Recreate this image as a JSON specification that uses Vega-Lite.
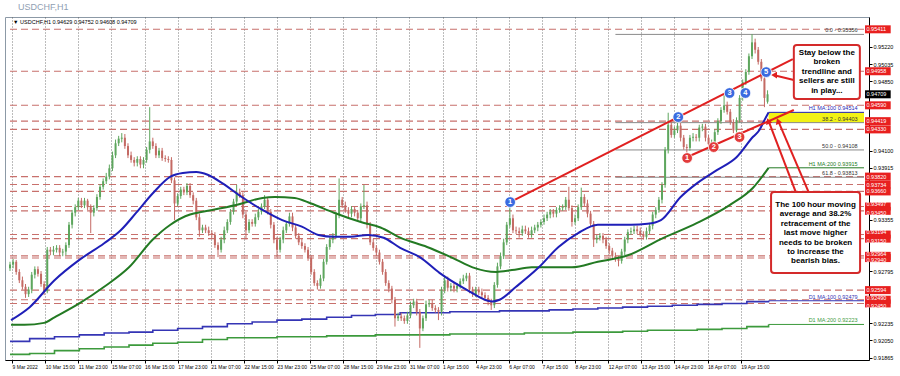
{
"$schema": "https://vega.github.io/schema/vega-lite/v6.json",
"width": 864, "height": 343,
"autosize": {"type": "none"},
"padding": {"left": 5, "top": 17, "right": 31, "bottom": 16},
"background": "white",
"view": {"stroke": "#8c99a6"},
"title": {"text": "USDCHF,H1", "anchor": "start", "fontSize": 9, "font": "Liberation Sans", "fontWeight": "normal", "color": "#8fa0b3", "offset": 5, "dx": 13},
"config": {"font": "Liberation Sans",
 "axis": {"titleOpacity": 0, "titleFontSize": 1, "labelOverlap": false, "labelFlush": false, "labelColor": "#000000", "labelPadding": 1, "tickSize": 3, "tickColor": "#000000", "domainColor": "#000000"},
 "axisX": {"grid": true, "gridColor": "#555555", "gridDash": [1, 2], "gridWidth": 0.8, "labelAlign": "left", "labelFontSize": 5},
 "axisY": {"grid": false, "labelFontSize": 5.5}},
"resolve": {"scale": {"color": "independent"}, "axis": {"x": "independent", "y": "independent"}},
"datasets": {
"cd": [
{"t":0,"o":0.9283,"h":0.9290,"l":0.9280,"c":0.9287},
{"t":3,"o":0.9287,"h":0.9293,"l":0.9283,"c":0.9290},
{"t":6,"o":0.9290,"h":0.9292,"l":0.9276,"c":0.9279},
{"t":9,"o":0.9279,"h":0.9282,"l":0.9267,"c":0.9270},
{"t":12,"o":0.9270,"h":0.9274,"l":0.9260,"c":0.9263},
{"t":15,"o":0.9263,"h":0.9266,"l":0.9251,"c":0.9255},
{"t":18,"o":0.9255,"h":0.9263,"l":0.9252,"c":0.9260},
{"t":21,"o":0.9260,"h":0.9279,"l":0.9256,"c":0.9276},
{"t":24,"o":0.9276,"h":0.9285,"l":0.9272,"c":0.9282},
{"t":27,"o":0.9282,"h":0.9285,"l":0.9274,"c":0.9277},
{"t":30,"o":0.9277,"h":0.9280,"l":0.9263,"c":0.9266},
{"t":33,"o":0.9266,"h":0.9269,"l":0.9254,"c":0.9258},
{"t":36,"o":0.9258,"h":0.9306,"l":0.9256,"c":0.9303},
{"t":39,"o":0.9303,"h":0.9306,"l":0.9297,"c":0.9301},
{"t":42,"o":0.9301,"h":0.9307,"l":0.9297,"c":0.9303},
{"t":45,"o":0.9303,"h":0.9308,"l":0.9300,"c":0.9305},
{"t":48,"o":0.9305,"h":0.9308,"l":0.9296,"c":0.9300},
{"t":51,"o":0.9300,"h":0.9304,"l":0.9296,"c":0.9301},
{"t":54,"o":0.9301,"h":0.9311,"l":0.9297,"c":0.9308},
{"t":57,"o":0.9308,"h":0.9333,"l":0.9305,"c":0.9330},
{"t":60,"o":0.9330,"h":0.9346,"l":0.9326,"c":0.9343},
{"t":63,"o":0.9343,"h":0.9352,"l":0.9339,"c":0.9349},
{"t":66,"o":0.9349,"h":0.9359,"l":0.9346,"c":0.9356},
{"t":69,"o":0.9356,"h":0.9359,"l":0.9348,"c":0.9351},
{"t":72,"o":0.9351,"h":0.9359,"l":0.9348,"c":0.9356},
{"t":75,"o":0.9356,"h":0.9358,"l":0.9346,"c":0.9349},
{"t":78,"o":0.9349,"h":0.9352,"l":0.9321,"c":0.9343},
{"t":81,"o":0.9343,"h":0.9351,"l":0.9339,"c":0.9348},
{"t":84,"o":0.9348,"h":0.9363,"l":0.9345,"c":0.9360},
{"t":87,"o":0.9360,"h":0.9374,"l":0.9357,"c":0.9371},
{"t":90,"o":0.9371,"h":0.9380,"l":0.9368,"c":0.9377},
{"t":93,"o":0.9377,"h":0.9386,"l":0.9374,"c":0.9382},
{"t":96,"o":0.9382,"h":0.9395,"l":0.9379,"c":0.9391},
{"t":99,"o":0.9391,"h":0.9409,"l":0.9388,"c":0.9405},
{"t":102,"o":0.9405,"h":0.9422,"l":0.9402,"c":0.9418},
{"t":105,"o":0.9418,"h":0.9426,"l":0.9415,"c":0.9423},
{"t":108,"o":0.9423,"h":0.9429,"l":0.9419,"c":0.9424},
{"t":111,"o":0.9424,"h":0.9428,"l":0.9412,"c":0.9415},
{"t":114,"o":0.9415,"h":0.9418,"l":0.9402,"c":0.9405},
{"t":117,"o":0.9405,"h":0.9409,"l":0.9397,"c":0.9400},
{"t":120,"o":0.9400,"h":0.9403,"l":0.9393,"c":0.9397},
{"t":123,"o":0.9397,"h":0.9404,"l":0.9393,"c":0.9401},
{"t":126,"o":0.9401,"h":0.9404,"l":0.9391,"c":0.9395},
{"t":129,"o":0.9395,"h":0.9403,"l":0.9391,"c":0.9400},
{"t":132,"o":0.9400,"h":0.9414,"l":0.9397,"c":0.9411},
{"t":135,"o":0.9411,"h":0.9457,"l":0.9407,"c":0.9420},
{"t":138,"o":0.9420,"h":0.9424,"l":0.9412,"c":0.9415},
{"t":141,"o":0.9415,"h":0.9418,"l":0.9402,"c":0.9405},
{"t":144,"o":0.9405,"h":0.9413,"l":0.9402,"c":0.9410},
{"t":147,"o":0.9410,"h":0.9413,"l":0.9399,"c":0.9402},
{"t":150,"o":0.9402,"h":0.9405,"l":0.9398,"c":0.9401},
{"t":153,"o":0.9401,"h":0.9404,"l":0.9397,"c":0.9400},
{"t":156,"o":0.9400,"h":0.9403,"l":0.9375,"c":0.9378},
{"t":159,"o":0.9378,"h":0.9381,"l":0.9335,"c":0.9353},
{"t":162,"o":0.9353,"h":0.9364,"l":0.9350,"c":0.9361},
{"t":165,"o":0.9361,"h":0.9371,"l":0.9358,"c":0.9368},
{"t":168,"o":0.9368,"h":0.9371,"l":0.9362,"c":0.9365},
{"t":171,"o":0.9365,"h":0.9375,"l":0.9362,"c":0.9372},
{"t":174,"o":0.9372,"h":0.9375,"l":0.9359,"c":0.9362},
{"t":177,"o":0.9362,"h":0.9365,"l":0.9352,"c":0.9356},
{"t":180,"o":0.9356,"h":0.9359,"l":0.9335,"c":0.9338},
{"t":183,"o":0.9338,"h":0.9342,"l":0.9317,"c":0.9324},
{"t":186,"o":0.9324,"h":0.9330,"l":0.9321,"c":0.9327},
{"t":189,"o":0.9327,"h":0.9330,"l":0.9321,"c":0.9324},
{"t":192,"o":0.9324,"h":0.9328,"l":0.9318,"c":0.9321},
{"t":195,"o":0.9321,"h":0.9324,"l":0.9316,"c":0.9319},
{"t":198,"o":0.9319,"h":0.9322,"l":0.9305,"c":0.9308},
{"t":201,"o":0.9308,"h":0.9311,"l":0.9295,"c":0.9303},
{"t":204,"o":0.9303,"h":0.9317,"l":0.9300,"c":0.9314},
{"t":207,"o":0.9314,"h":0.9328,"l":0.9310,"c":0.9324},
{"t":210,"o":0.9324,"h":0.9336,"l":0.9321,"c":0.9333},
{"t":213,"o":0.9333,"h":0.9347,"l":0.9330,"c":0.9344},
{"t":216,"o":0.9344,"h":0.9358,"l":0.9341,"c":0.9355},
{"t":219,"o":0.9355,"h":0.9373,"l":0.9351,"c":0.9365},
{"t":222,"o":0.9365,"h":0.9369,"l":0.9359,"c":0.9362},
{"t":225,"o":0.9362,"h":0.9365,"l":0.9337,"c":0.9341},
{"t":228,"o":0.9341,"h":0.9344,"l":0.9314,"c":0.9324},
{"t":231,"o":0.9324,"h":0.9336,"l":0.9321,"c":0.9333},
{"t":234,"o":0.9333,"h":0.9336,"l":0.9328,"c":0.9331},
{"t":237,"o":0.9331,"h":0.9342,"l":0.9328,"c":0.9338},
{"t":240,"o":0.9338,"h":0.9347,"l":0.9335,"c":0.9344},
{"t":243,"o":0.9344,"h":0.9353,"l":0.9341,"c":0.9350},
{"t":246,"o":0.9350,"h":0.9362,"l":0.9347,"c":0.9357},
{"t":249,"o":0.9357,"h":0.9360,"l":0.9341,"c":0.9344},
{"t":252,"o":0.9344,"h":0.9347,"l":0.9326,"c":0.9330},
{"t":255,"o":0.9330,"h":0.9333,"l":0.9310,"c":0.9314},
{"t":258,"o":0.9314,"h":0.9317,"l":0.9295,"c":0.9303},
{"t":261,"o":0.9303,"h":0.9317,"l":0.9300,"c":0.9314},
{"t":264,"o":0.9314,"h":0.9328,"l":0.9310,"c":0.9324},
{"t":267,"o":0.9324,"h":0.9334,"l":0.9321,"c":0.9331},
{"t":270,"o":0.9331,"h":0.9343,"l":0.9328,"c":0.9339},
{"t":273,"o":0.9339,"h":0.9343,"l":0.9323,"c":0.9327},
{"t":276,"o":0.9327,"h":0.9330,"l":0.9315,"c":0.9318},
{"t":279,"o":0.9318,"h":0.9321,"l":0.9308,"c":0.9311},
{"t":282,"o":0.9311,"h":0.9315,"l":0.9304,"c":0.9307},
{"t":285,"o":0.9307,"h":0.9310,"l":0.9300,"c":0.9303},
{"t":288,"o":0.9303,"h":0.9306,"l":0.9291,"c":0.9294},
{"t":291,"o":0.9294,"h":0.9297,"l":0.9276,"c":0.9279},
{"t":294,"o":0.9279,"h":0.9282,"l":0.9264,"c":0.9267},
{"t":297,"o":0.9267,"h":0.9270,"l":0.9260,"c":0.9264},
{"t":300,"o":0.9264,"h":0.9276,"l":0.9261,"c":0.9272},
{"t":303,"o":0.9272,"h":0.9293,"l":0.9269,"c":0.9290},
{"t":306,"o":0.9290,"h":0.9309,"l":0.9287,"c":0.9306},
{"t":309,"o":0.9306,"h":0.9317,"l":0.9303,"c":0.9314},
{"t":312,"o":0.9314,"h":0.9321,"l":0.9310,"c":0.9318},
{"t":315,"o":0.9318,"h":0.9344,"l":0.9315,"c":0.9341},
{"t":318,"o":0.9341,"h":0.9380,"l":0.9337,"c":0.9357},
{"t":321,"o":0.9357,"h":0.9360,"l":0.9348,"c":0.9351},
{"t":324,"o":0.9351,"h":0.9355,"l":0.9343,"c":0.9346},
{"t":327,"o":0.9346,"h":0.9349,"l":0.9338,"c":0.9342},
{"t":330,"o":0.9342,"h":0.9350,"l":0.9338,"c":0.9347},
{"t":333,"o":0.9347,"h":0.9350,"l":0.9339,"c":0.9343},
{"t":336,"o":0.9343,"h":0.9346,"l":0.9334,"c":0.9337},
{"t":339,"o":0.9337,"h":0.9353,"l":0.9334,"c":0.9350},
{"t":342,"o":0.9350,"h":0.9373,"l":0.9347,"c":0.9351},
{"t":345,"o":0.9351,"h":0.9355,"l":0.9326,"c":0.9330},
{"t":348,"o":0.9330,"h":0.9333,"l":0.9308,"c":0.9311},
{"t":351,"o":0.9311,"h":0.9315,"l":0.9302,"c":0.9305},
{"t":354,"o":0.9305,"h":0.9308,"l":0.9296,"c":0.9300},
{"t":357,"o":0.9300,"h":0.9303,"l":0.9287,"c":0.9290},
{"t":360,"o":0.9290,"h":0.9293,"l":0.9276,"c":0.9279},
{"t":363,"o":0.9279,"h":0.9282,"l":0.9264,"c":0.9267},
{"t":366,"o":0.9267,"h":0.9270,"l":0.9257,"c":0.9261},
{"t":369,"o":0.9261,"h":0.9264,"l":0.9245,"c":0.9249},
{"t":372,"o":0.9249,"h":0.9252,"l":0.9220,"c":0.9229},
{"t":375,"o":0.9229,"h":0.9235,"l":0.9226,"c":0.9231},
{"t":378,"o":0.9231,"h":0.9235,"l":0.9226,"c":0.9229},
{"t":381,"o":0.9229,"h":0.9232,"l":0.9223,"c":0.9226},
{"t":384,"o":0.9226,"h":0.9236,"l":0.9223,"c":0.9232},
{"t":387,"o":0.9232,"h":0.9247,"l":0.9229,"c":0.9243},
{"t":390,"o":0.9243,"h":0.9250,"l":0.9240,"c":0.9247},
{"t":393,"o":0.9247,"h":0.9250,"l":0.9232,"c":0.9236},
{"t":396,"o":0.9236,"h":0.9239,"l":0.9197,"c":0.9218},
{"t":399,"o":0.9218,"h":0.9232,"l":0.9215,"c":0.9229},
{"t":402,"o":0.9229,"h":0.9248,"l":0.9226,"c":0.9244},
{"t":405,"o":0.9244,"h":0.9249,"l":0.9241,"c":0.9245},
{"t":408,"o":0.9245,"h":0.9249,"l":0.9237,"c":0.9240},
{"t":411,"o":0.9240,"h":0.9243,"l":0.9235,"c":0.9238},
{"t":414,"o":0.9238,"h":0.9241,"l":0.9227,"c":0.9236},
{"t":417,"o":0.9236,"h":0.9263,"l":0.9232,"c":0.9260},
{"t":420,"o":0.9260,"h":0.9275,"l":0.9256,"c":0.9270},
{"t":423,"o":0.9270,"h":0.9274,"l":0.9258,"c":0.9262},
{"t":426,"o":0.9262,"h":0.9267,"l":0.9258,"c":0.9264},
{"t":429,"o":0.9264,"h":0.9267,"l":0.9257,"c":0.9261},
{"t":432,"o":0.9261,"h":0.9267,"l":0.9257,"c":0.9264},
{"t":435,"o":0.9264,"h":0.9272,"l":0.9261,"c":0.9269},
{"t":438,"o":0.9269,"h":0.9276,"l":0.9266,"c":0.9272},
{"t":441,"o":0.9272,"h":0.9278,"l":0.9269,"c":0.9275},
{"t":444,"o":0.9275,"h":0.9278,"l":0.9256,"c":0.9260},
{"t":447,"o":0.9260,"h":0.9263,"l":0.9252,"c":0.9255},
{"t":450,"o":0.9255,"h":0.9263,"l":0.9252,"c":0.9260},
{"t":453,"o":0.9260,"h":0.9263,"l":0.9254,"c":0.9257},
{"t":456,"o":0.9257,"h":0.9261,"l":0.9251,"c":0.9254},
{"t":459,"o":0.9254,"h":0.9257,"l":0.9248,"c":0.9251},
{"t":462,"o":0.9251,"h":0.9254,"l":0.9243,"c":0.9247},
{"t":465,"o":0.9247,"h":0.9250,"l":0.9238,"c":0.9243},
{"t":468,"o":0.9243,"h":0.9268,"l":0.9240,"c":0.9265},
{"t":471,"o":0.9265,"h":0.9289,"l":0.9262,"c":0.9285},
{"t":474,"o":0.9285,"h":0.9300,"l":0.9282,"c":0.9296},
{"t":477,"o":0.9296,"h":0.9315,"l":0.9293,"c":0.9311},
{"t":480,"o":0.9311,"h":0.9333,"l":0.9308,"c":0.9330},
{"t":483,"o":0.9330,"h":0.9355,"l":0.9327,"c":0.9337},
{"t":486,"o":0.9337,"h":0.9341,"l":0.9321,"c":0.9324},
{"t":489,"o":0.9324,"h":0.9328,"l":0.9320,"c":0.9323},
{"t":492,"o":0.9323,"h":0.9327,"l":0.9316,"c":0.9321},
{"t":495,"o":0.9321,"h":0.9329,"l":0.9318,"c":0.9325},
{"t":498,"o":0.9325,"h":0.9329,"l":0.9320,"c":0.9323},
{"t":501,"o":0.9323,"h":0.9327,"l":0.9316,"c":0.9319},
{"t":504,"o":0.9319,"h":0.9328,"l":0.9316,"c":0.9324},
{"t":507,"o":0.9324,"h":0.9330,"l":0.9321,"c":0.9327},
{"t":510,"o":0.9327,"h":0.9333,"l":0.9323,"c":0.9330},
{"t":513,"o":0.9330,"h":0.9336,"l":0.9327,"c":0.9333},
{"t":516,"o":0.9333,"h":0.9341,"l":0.9330,"c":0.9337},
{"t":519,"o":0.9337,"h":0.9344,"l":0.9334,"c":0.9341},
{"t":522,"o":0.9341,"h":0.9347,"l":0.9337,"c":0.9344},
{"t":525,"o":0.9344,"h":0.9347,"l":0.9338,"c":0.9342},
{"t":528,"o":0.9342,"h":0.9349,"l":0.9338,"c":0.9346},
{"t":531,"o":0.9346,"h":0.9351,"l":0.9343,"c":0.9348},
{"t":534,"o":0.9348,"h":0.9352,"l":0.9345,"c":0.9349},
{"t":537,"o":0.9349,"h":0.9360,"l":0.9346,"c":0.9357},
{"t":540,"o":0.9357,"h":0.9371,"l":0.9345,"c":0.9348},
{"t":543,"o":0.9348,"h":0.9351,"l":0.9328,"c":0.9333},
{"t":546,"o":0.9333,"h":0.9341,"l":0.9330,"c":0.9337},
{"t":549,"o":0.9337,"h":0.9352,"l":0.9334,"c":0.9349},
{"t":552,"o":0.9349,"h":0.9370,"l":0.9346,"c":0.9360},
{"t":555,"o":0.9360,"h":0.9363,"l":0.9350,"c":0.9353},
{"t":558,"o":0.9353,"h":0.9357,"l":0.9338,"c":0.9342},
{"t":561,"o":0.9342,"h":0.9345,"l":0.9328,"c":0.9331},
{"t":564,"o":0.9331,"h":0.9334,"l":0.9306,"c":0.9314},
{"t":567,"o":0.9314,"h":0.9319,"l":0.9310,"c":0.9316},
{"t":570,"o":0.9316,"h":0.9321,"l":0.9313,"c":0.9318},
{"t":573,"o":0.9318,"h":0.9321,"l":0.9310,"c":0.9314},
{"t":576,"o":0.9314,"h":0.9317,"l":0.9304,"c":0.9307},
{"t":579,"o":0.9307,"h":0.9310,"l":0.9298,"c":0.9302},
{"t":582,"o":0.9302,"h":0.9305,"l":0.9293,"c":0.9296},
{"t":585,"o":0.9296,"h":0.9300,"l":0.9290,"c":0.9293},
{"t":588,"o":0.9293,"h":0.9296,"l":0.9285,"c":0.9291},
{"t":591,"o":0.9291,"h":0.9304,"l":0.9288,"c":0.9301},
{"t":594,"o":0.9301,"h":0.9317,"l":0.9297,"c":0.9314},
{"t":597,"o":0.9314,"h":0.9325,"l":0.9310,"c":0.9322},
{"t":600,"o":0.9322,"h":0.9327,"l":0.9319,"c":0.9323},
{"t":603,"o":0.9323,"h":0.9329,"l":0.9320,"c":0.9325},
{"t":606,"o":0.9325,"h":0.9329,"l":0.9320,"c":0.9323},
{"t":609,"o":0.9323,"h":0.9327,"l":0.9317,"c":0.9320},
{"t":612,"o":0.9320,"h":0.9323,"l":0.9314,"c":0.9317},
{"t":615,"o":0.9317,"h":0.9327,"l":0.9314,"c":0.9323},
{"t":618,"o":0.9323,"h":0.9332,"l":0.9320,"c":0.9329},
{"t":621,"o":0.9329,"h":0.9344,"l":0.9325,"c":0.9341},
{"t":624,"o":0.9341,"h":0.9349,"l":0.9337,"c":0.9346},
{"t":627,"o":0.9346,"h":0.9360,"l":0.9343,"c":0.9357},
{"t":630,"o":0.9357,"h":0.9376,"l":0.9353,"c":0.9373},
{"t":633,"o":0.9373,"h":0.9414,"l":0.9370,"c":0.9411},
{"t":636,"o":0.9411,"h":0.9451,"l":0.9407,"c":0.9438},
{"t":639,"o":0.9438,"h":0.9441,"l":0.9424,"c":0.9427},
{"t":642,"o":0.9427,"h":0.9436,"l":0.9424,"c":0.9432},
{"t":645,"o":0.9432,"h":0.9445,"l":0.9429,"c":0.9437},
{"t":648,"o":0.9437,"h":0.9440,"l":0.9420,"c":0.9424},
{"t":651,"o":0.9424,"h":0.9427,"l":0.9411,"c":0.9414},
{"t":654,"o":0.9414,"h":0.9417,"l":0.9403,"c":0.9413},
{"t":657,"o":0.9413,"h":0.9427,"l":0.9410,"c":0.9424},
{"t":660,"o":0.9424,"h":0.9429,"l":0.9420,"c":0.9425},
{"t":663,"o":0.9425,"h":0.9428,"l":0.9420,"c":0.9424},
{"t":666,"o":0.9424,"h":0.9438,"l":0.9420,"c":0.9435},
{"t":669,"o":0.9435,"h":0.9439,"l":0.9431,"c":0.9436},
{"t":672,"o":0.9436,"h":0.9439,"l":0.9420,"c":0.9424},
{"t":675,"o":0.9424,"h":0.9427,"l":0.9414,"c":0.9417},
{"t":678,"o":0.9417,"h":0.9422,"l":0.9413,"c":0.9419},
{"t":681,"o":0.9419,"h":0.9433,"l":0.9416,"c":0.9430},
{"t":684,"o":0.9430,"h":0.9445,"l":0.9427,"c":0.9442},
{"t":687,"o":0.9442,"h":0.9457,"l":0.9439,"c":0.9454},
{"t":690,"o":0.9454,"h":0.9470,"l":0.9451,"c":0.9459},
{"t":693,"o":0.9459,"h":0.9463,"l":0.9449,"c":0.9452},
{"t":696,"o":0.9452,"h":0.9455,"l":0.9438,"c":0.9441},
{"t":699,"o":0.9441,"h":0.9444,"l":0.9429,"c":0.9432},
{"t":702,"o":0.9432,"h":0.9446,"l":0.9426,"c":0.9443},
{"t":705,"o":0.9443,"h":0.9470,"l":0.9440,"c":0.9467},
{"t":708,"o":0.9467,"h":0.9487,"l":0.9464,"c":0.9484},
{"t":711,"o":0.9484,"h":0.9498,"l":0.9481,"c":0.9495},
{"t":714,"o":0.9495,"h":0.9515,"l":0.9492,"c":0.9512},
{"t":717,"o":0.9512,"h":0.9536,"l":0.9509,"c":0.9527},
{"t":720,"o":0.9527,"h":0.9531,"l":0.9515,"c":0.9519},
{"t":723,"o":0.9519,"h":0.9522,"l":0.9503,"c":0.9506},
{"t":726,"o":0.9506,"h":0.9509,"l":0.9485,"c":0.9488},
{"t":729,"o":0.9488,"h":0.9492,"l":0.9457,"c":0.9467},
{"t":732,"o":0.94629,"h":0.94752,"l":0.94608,"c":0.94709}
],
"levels": [{"p":0.95411},{"p":0.94958},{"p":0.94590},{"p":0.94419},{"p":0.94330},{"p":0.93820},{"p":0.93734},{"p":0.93660},{"p":0.93497},{"p":0.93450},{"p":0.93194},{"p":0.93150},{"p":0.92964},{"p":0.92940},{"p":0.92594},{"p":0.92490},{"p":0.92450}],
"fib": [{"p":0.95356,"lab":"0.0 - 0.95356"},{"p":0.94403,"lab":"38.2 - 0.94403"},{"p":0.94108,"lab":"50.0 - 0.94108"},{"p":0.93813,"lab":"61.8 - 0.93813"}],
"malab": [{"p":0.94514,"lab":"H1 MA:100 0.94514","g":"h100"},{"p":0.93915,"lab":"H1 MA:200 0.93915","g":"h200"},{"p":0.92479,"lab":"D1 MA:100 0.92479","g":"d100"},{"p":0.92223,"lab":"D1 MA:200 0.92223","g":"d200"}],
"marks": [{"n":"1","t":483.3,"p":0.93545,"k":"b"},{"n":"2","t":645.7,"p":0.94463,"k":"b"},{"n":"3","t":695.3,"p":0.94723,"k":"b"},{"n":"4","t":710.6,"p":0.94723,"k":"b"},{"n":"5","t":730.7,"p":0.94949,"k":"b"},{"n":"1","t":654.3,"p":0.94021,"k":"r"},{"n":"2","t":680,"p":0.94139,"k":"r"},{"n":"3","t":704.9,"p":0.94247,"k":"r"}]
},
"layer": [
{"data": {"name": "cd"},
 "mark": {"type": "rule", "strokeWidth": 1},
 "encoding": {
  "x": {"field": "t", "type": "quantitative", "title": null, "scale": {"domain": [0, 825.2], "nice": false, "zero": false},
   "axis": {"orient": "bottom", "title": null, "grid": true, "values": [2,66,130,194,258,322,386,450,514,578,642,706],
    "labelExpr": "['9 Mar 2022','10 Mar 15:00','11 Mar 23:00','15 Mar 07:00','16 Mar 15:00','17 Mar 23:00','21 Mar 07:00','22 Mar 15:00','23 Mar 23:00','25 Mar 07:00','28 Mar 15:00','29 Mar 23:00','31 Mar 07:00','1 Apr 15:00','4 Apr 23:00','6 Apr 07:00','7 Apr 15:00','8 Apr 23:00','12 Apr 07:00','13 Apr 15:00','14 Apr 23:00','18 Apr 07:00','19 Apr 15:00'][round((datum.value-2)/32)]",
    "labelAlign": "left", "labelFontSize": 5, "labelOverlap": false, "labelFlush": false}},
  "y": {"field": "l", "type": "quantitative", "title": null, "scale": {"domain": [0.91839, 0.95544], "nice": false, "zero": false},
   "axis": {"orient": "right", "title": null, "grid": false, "values": [0.91865,0.92235,0.93355,0.94100,0.95035],
    "format": ".5f", "labelFontSize": 5.5, "labelOverlap": false, "labelFlush": false}},
  "y2": {"field": "h"},
  "color": {"value": "transparent"}}},
{"data": {"name": "cd"},
 "mark": {"type": "rule", "strokeWidth": 1},
 "encoding": {
  "x": {"field": "t", "type": "quantitative", "title": null,
   "axis": {"orient": "bottom", "title": null, "grid": true, "domain": false, "values": [34,98,162,226,290,354,418,482,546,610,674],
    "labelExpr": "['9 Mar 2022','10 Mar 15:00','11 Mar 23:00','15 Mar 07:00','16 Mar 15:00','17 Mar 23:00','21 Mar 07:00','22 Mar 15:00','23 Mar 23:00','25 Mar 07:00','28 Mar 15:00','29 Mar 23:00','31 Mar 07:00','1 Apr 15:00','4 Apr 23:00','6 Apr 07:00','7 Apr 15:00','8 Apr 23:00','12 Apr 07:00','13 Apr 15:00','14 Apr 23:00','18 Apr 07:00','19 Apr 15:00'][round((datum.value-2)/32)]",
    "labelAlign": "left", "labelFontSize": 5, "labelOverlap": false, "labelFlush": false}},
  "y": {"field": "l", "type": "quantitative", "title": null,
   "axis": {"orient": "right", "title": null, "grid": false, "domain": false, "values": [0.92050,0.92795,0.93915,0.94850,0.95220],
    "format": ".5f", "labelFontSize": 5.5, "labelOverlap": false, "labelFlush": false}},
  "y2": {"field": "h"},
  "color": {"value": "transparent"}}},
{"data": {"name": "levels"},
 "mark": {"type": "rule", "color": "#c8706c", "strokeDash": [7, 4], "strokeWidth": 1.1},
 "encoding": {"x": {"datum": 0, "type": "quantitative", "axis": null}, "x2": {"datum": 825.2},
  "y": {"field": "p", "type": "quantitative", "axis": null}}},
{"data": {"values": [{"a": 0.94403, "b": 0.94514}]},
 "mark": {"type": "rect", "color": "#f2f214"},
 "encoding": {"x": {"datum": 733, "type": "quantitative", "axis": null}, "x2": {"datum": 825.2},
  "y": {"field": "a", "type": "quantitative", "axis": null}, "y2": {"field": "b"}}},
{"data": {"name": "fib"},
 "mark": {"type": "rule", "color": "#8a8a8a", "strokeWidth": 1},
 "encoding": {"x": {"datum": 585, "type": "quantitative", "axis": null}, "x2": {"datum": 825.2},
  "y": {"field": "p", "type": "quantitative", "axis": null}}},
{"data": {"values": [{"t":0,"p":0.9190},{"t":19,"p":0.9191},{"t":43,"p":0.9194},{"t":67,"p":0.9196},{"t":91,"p":0.9198},{"t":115,"p":0.9200},{"t":138,"p":0.9202},{"t":162,"p":0.9203},{"t":186,"p":0.9206},{"t":210,"p":0.9208},{"t":258,"p":0.9209},{"t":306,"p":0.9210},{"t":353,"p":0.9211},{"t":425,"p":0.9212},{"t":497,"p":0.9213},{"t":544,"p":0.9214},{"t":592,"p":0.9215},{"t":616,"p":0.9216},{"t":664,"p":0.9217},{"t":688,"p":0.9218},{"t":712,"p":0.9220},{"t":733,"p":0.92223}]},
 "mark": {"type": "line", "color": "#3c9a3c", "strokeWidth": 1.6, "interpolate": "step-after"},
 "encoding": {"x": {"field": "t", "type": "quantitative", "axis": null},
  "y": {"field": "p", "type": "quantitative", "axis": null}}},
{"data": {"values": [{"t":0,"p":0.9204},{"t":19,"p":0.9207},{"t":43,"p":0.9209},{"t":67,"p":0.9211},{"t":91,"p":0.9213},{"t":115,"p":0.9214},{"t":138,"p":0.9216},{"t":162,"p":0.9218},{"t":186,"p":0.9220},{"t":210,"p":0.9223},{"t":234,"p":0.9225},{"t":258,"p":0.9227},{"t":282,"p":0.9228},{"t":306,"p":0.9230},{"t":330,"p":0.9232},{"t":353,"p":0.9233},{"t":377,"p":0.9235},{"t":425,"p":0.9236},{"t":473,"p":0.9237},{"t":521,"p":0.9238},{"t":544,"p":0.9239},{"t":568,"p":0.9240},{"t":592,"p":0.9241},{"t":616,"p":0.9242},{"t":640,"p":0.9243},{"t":664,"p":0.9244},{"t":688,"p":0.9245},{"t":712,"p":0.9247},{"t":733,"p":0.92479}]},
 "mark": {"type": "line", "color": "#3535b5", "strokeWidth": 1.6, "interpolate": "step-after"},
 "encoding": {"x": {"field": "t", "type": "quantitative", "axis": null},
  "y": {"field": "p", "type": "quantitative", "axis": null}}},
{"data": {"name": "cd"},
 "mark": {"type": "rule", "strokeWidth": 1},
 "encoding": {"x": {"field": "t", "type": "quantitative", "axis": null},
  "y": {"field": "l", "type": "quantitative", "axis": null}, "y2": {"field": "h"},
  "color": {"condition": {"test": "datum.c >= datum.o", "value": "#5ea65e"}, "value": "#c46a64"}}},
{"data": {"name": "cd"},
 "mark": {"type": "bar", "width": 2},
 "encoding": {"x": {"field": "t", "type": "quantitative", "axis": null},
  "y": {"field": "o", "type": "quantitative", "axis": null}, "y2": {"field": "c"},
  "color": {"condition": {"test": "datum.c >= datum.o", "value": "#5ea65e"}, "value": "#c46a64"}}},
{"data": {"values": [{"t":1,"p":0.9222},{"t":14,"p":0.9222},{"t":33,"p":0.9224},{"t":43,"p":0.9230},{"t":67,"p":0.9245},{"t":91,"p":0.9263},{"t":115,"p":0.9284},{"t":138,"p":0.9314},{"t":155,"p":0.9330},{"t":174,"p":0.9341},{"t":186,"p":0.9344},{"t":205,"p":0.9348},{"t":224,"p":0.9353},{"t":244,"p":0.9359},{"t":256,"p":0.9360},{"t":275,"p":0.9359},{"t":291,"p":0.9353},{"t":313,"p":0.9343},{"t":339,"p":0.9333},{"t":358,"p":0.9327},{"t":377,"p":0.9316},{"t":403,"p":0.9306},{"t":428,"p":0.9294},{"t":447,"p":0.9284},{"t":470,"p":0.9279},{"t":485,"p":0.9281},{"t":504,"p":0.9284},{"t":543,"p":0.9284},{"t":568,"p":0.9290},{"t":597,"p":0.9297},{"t":628,"p":0.9314},{"t":664,"p":0.9332},{"t":695,"p":0.9351},{"t":718,"p":0.9370},{"t":733,"p":0.93915}]},
 "mark": {"type": "line", "color": "#237a23", "strokeWidth": 2, "interpolate": "monotone"},
 "encoding": {"x": {"field": "t", "type": "quantitative", "axis": null},
  "y": {"field": "p", "type": "quantitative", "axis": null}}},
{"data": {"values": [{"t":1,"p":0.9227},{"t":19,"p":0.9241},{"t":43,"p":0.9270},{"t":67,"p":0.9292},{"t":91,"p":0.9310},{"t":107,"p":0.9324},{"t":122,"p":0.9343},{"t":138,"p":0.9364},{"t":155,"p":0.9382},{"t":167,"p":0.9386},{"t":180,"p":0.9387},{"t":191,"p":0.9384},{"t":205,"p":0.9375},{"t":224,"p":0.9360},{"t":244,"p":0.9346},{"t":263,"p":0.9335},{"t":282,"p":0.9328},{"t":298,"p":0.9319},{"t":313,"p":0.9317},{"t":329,"p":0.9317},{"t":346,"p":0.9319},{"t":361,"p":0.9316},{"t":377,"p":0.9305},{"t":396,"p":0.9295},{"t":415,"p":0.9278},{"t":441,"p":0.9260},{"t":466,"p":0.9247},{"t":473,"p":0.9249},{"t":489,"p":0.9263},{"t":511,"p":0.9284},{"t":530,"p":0.9306},{"t":549,"p":0.9321},{"t":568,"p":0.9330},{"t":600,"p":0.9330},{"t":616,"p":0.9331},{"t":629,"p":0.9335},{"t":648,"p":0.9360},{"t":664,"p":0.9375},{"t":683,"p":0.9389},{"t":702,"p":0.9403},{"t":718,"p":0.9425},{"t":724,"p":0.9432},{"t":729,"p":0.9443},{"t":733,"p":0.94514}]},
 "mark": {"type": "line", "color": "#1f1fb8", "strokeWidth": 2, "interpolate": "monotone"},
 "encoding": {"x": {"field": "t", "type": "quantitative", "axis": null},
  "y": {"field": "p", "type": "quantitative", "axis": null}}},
{"data": {"name": "malab"},
 "mark": {"type": "rule", "strokeWidth": 1},
 "encoding": {"x": {"datum": 733, "type": "quantitative", "axis": null}, "x2": {"datum": 825.2},
  "y": {"field": "p", "type": "quantitative", "axis": null},
  "color": {"field": "g", "type": "nominal", "scale": {"domain": ["h100","h200","d100","d200"], "range": ["#1f1fb8","#237a23","#3535b5","#3c9a3c"]}, "legend": null}}},
{"data": {"name": "malab"},
 "mark": {"type": "text", "align": "right", "baseline": "bottom", "dy": -1, "fontSize": 5.5},
 "encoding": {"x": {"datum": 819, "type": "quantitative", "axis": null},
  "y": {"field": "p", "type": "quantitative", "axis": null},
  "text": {"field": "lab"},
  "color": {"field": "g", "type": "nominal", "scale": {"domain": ["h100","h200","d100","d200"], "range": ["#1f1fb8","#237a23","#3535b5","#3c9a3c"]}, "legend": null}}},
{"data": {"name": "fib"},
 "mark": {"type": "text", "align": "right", "baseline": "bottom", "dy": -1, "fontSize": 5.5, "color": "#333333"},
 "encoding": {"x": {"datum": 819, "type": "quantitative", "axis": null},
  "y": {"field": "p", "type": "quantitative", "axis": null},
  "text": {"field": "lab"}}},
{"data": {"values": [{"g":"up","t":483.3,"p":0.93545},{"g":"up","t":756.4,"p":0.95090},{"g":"lo","t":652.3,"p":0.94021},{"g":"lo","t":757.4,"p":0.94539},{"g":"a1","t":757.4,"p":0.94863},{"g":"a1","t":739.5,"p":0.94912},{"g":"a2","t":759.3,"p":0.93653},{"g":"a2","t":733.5,"p":0.94405},{"g":"a3","t":771.7,"p":0.93653},{"g":"a3","t":742.9,"p":0.94405}]},
 "mark": {"type": "line", "color": "#e02020", "strokeWidth": 2},
 "encoding": {"x": {"field": "t", "type": "quantitative", "axis": null},
  "y": {"field": "p", "type": "quantitative", "axis": null},
  "detail": {"field": "g"}}},
{"data": {"values": [{"t":738.3,"p":0.94917,"a":-90},{"t":732.6,"p":0.94420,"a":-21},{"t":742.1,"p":0.94420,"a":-21}]},
 "mark": {"type": "point", "shape": "triangle-up", "filled": true, "color": "#e02020", "size": 45, "opacity": 1},
 "encoding": {"x": {"field": "t", "type": "quantitative", "axis": null},
  "y": {"field": "p", "type": "quantitative", "axis": null},
  "angle": {"field": "a", "type": "quantitative", "scale": null}}},
{"data": {"values": [{"x1":757.4,"x2":821.2,"p1":0.95241,"p2":0.94658},{"x1":735.4,"x2":821.4,"p1":0.93653,"p2":0.92779}]},
 "mark": {"type": "rect", "fill": "white", "stroke": "#d42a2a", "strokeWidth": 2, "cornerRadius": 3},
 "encoding": {"x": {"field": "x1", "type": "quantitative", "axis": null}, "x2": {"field": "x2"},
  "y": {"field": "p1", "type": "quantitative", "axis": null}, "y2": {"field": "p2"}}},
{"data": {"values": [{"t":789.3,"p":0.95198,"txt":"Stay below the\nbroken\ntrendline and\nsellers are still\nin play..."},{"t":778.4,"p":0.93556,"txt":"The 100 hour moving\naverage and 38.2%\nretracement of the\nlast move higher\nneeds to be broken\nto increase the\nbearish bias."}]},
 "mark": {"type": "text", "align": "center", "baseline": "top", "fontSize": 8, "fontWeight": "bold", "lineBreak": "\n", "lineHeight": 9.4, "color": "#000000"},
 "encoding": {"x": {"field": "t", "type": "quantitative", "axis": null},
  "y": {"field": "p", "type": "quantitative", "axis": null},
  "text": {"field": "txt"}}},
{"data": {"name": "marks"},
 "mark": {"type": "point", "shape": "circle", "filled": true, "size": 115, "opacity": 1, "stroke": "white", "strokeWidth": 0.8},
 "encoding": {"x": {"field": "t", "type": "quantitative", "axis": null},
  "y": {"field": "p", "type": "quantitative", "axis": null},
  "fill": {"field": "k", "type": "nominal", "scale": {"domain": ["b","r"], "range": ["#3a6be0","#e23b3b"]}, "legend": null}}},
{"data": {"name": "marks"},
 "mark": {"type": "text", "align": "center", "baseline": "middle", "fontSize": 7.5, "fontWeight": "bold", "color": "white"},
 "encoding": {"x": {"field": "t", "type": "quantitative", "axis": null},
  "y": {"field": "p", "type": "quantitative", "axis": null},
  "text": {"field": "n"}}},
{"data": {"name": "levels"},
 "mark": {"type": "rect", "height": 8, "color": "#e8201f"},
 "encoding": {"x": {"datum": 826.2, "type": "quantitative", "axis": null}, "x2": {"datum": 851},
  "y": {"field": "p", "type": "quantitative", "axis": null}}},
{"data": {"name": "levels"},
 "transform": [{"filter": {"field": "p", "oneOf": [0.93497, 0.93194, 0.92964, 0.92490]}}],
 "mark": {"type": "text", "align": "left", "baseline": "middle", "fontSize": 5.5, "color": "white", "dy": -2.2},
 "encoding": {"x": {"datum": 827.6, "type": "quantitative", "axis": null},
  "y": {"field": "p", "type": "quantitative", "axis": null},
  "text": {"field": "p", "type": "quantitative", "format": ".5f"}}},
{"data": {"name": "levels"},
 "transform": [{"filter": {"field": "p", "oneOf": [0.93450, 0.93150, 0.92940, 0.92450]}}],
 "mark": {"type": "text", "align": "left", "baseline": "middle", "fontSize": 5.5, "color": "white", "dy": 2.2},
 "encoding": {"x": {"datum": 827.6, "type": "quantitative", "axis": null},
  "y": {"field": "p", "type": "quantitative", "axis": null},
  "text": {"field": "p", "type": "quantitative", "format": ".5f"}}},
{"data": {"name": "levels"},
 "transform": [{"filter": {"not": {"field": "p", "oneOf": [0.93497, 0.93194, 0.92964, 0.92490, 0.93450, 0.93150, 0.92940, 0.92450]}}}],
 "mark": {"type": "text", "align": "left", "baseline": "middle", "fontSize": 5.5, "color": "white"},
 "encoding": {"x": {"datum": 827.6, "type": "quantitative", "axis": null},
  "y": {"field": "p", "type": "quantitative", "axis": null},
  "text": {"field": "p", "type": "quantitative", "format": ".5f"}}},
{"data": {"values": [{"p": 0.94709}]},
 "mark": {"type": "rect", "height": 8, "color": "#000000"},
 "encoding": {"x": {"datum": 826.2, "type": "quantitative", "axis": null}, "x2": {"datum": 851},
  "y": {"field": "p", "type": "quantitative", "axis": null}}},
{"data": {"values": [{"p": 0.94709}]},
 "mark": {"type": "text", "align": "left", "baseline": "middle", "fontSize": 5.5, "color": "white"},
 "encoding": {"x": {"datum": 827.6, "type": "quantitative", "axis": null},
  "y": {"field": "p", "type": "quantitative", "axis": null},
  "text": {"field": "p", "type": "quantitative", "format": ".5f"}}},
{"data": {"values": [{"t": 3, "p": 0.95489, "txt": "▼ USDCHF,H1  0.94629 0.94752 0.94608 0.94709"}]},
 "mark": {"type": "text", "align": "left", "baseline": "middle", "fontSize": 5.5, "color": "#000000"},
 "encoding": {"x": {"field": "t", "type": "quantitative", "axis": null},
  "y": {"field": "p", "type": "quantitative", "axis": null},
  "text": {"field": "txt"}}}
]
}
